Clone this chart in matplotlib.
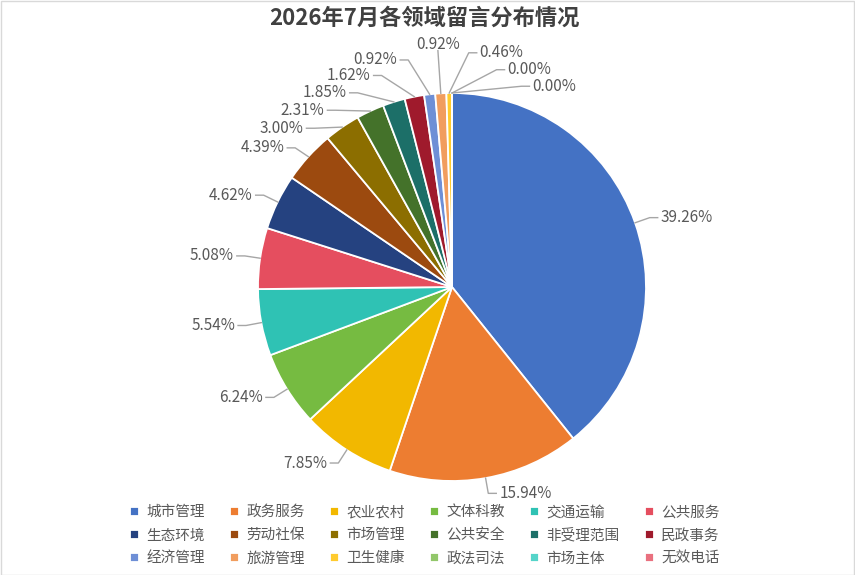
import numpy as np
import matplotlib.pyplot as plt
from matplotlib.patches import Rectangle

plt.rcParams['font.family'] = ['Noto Sans CJK SC', 'DejaVu Sans']

# 各领域名称与占比（%）
categories = ["城市管理", "政务服务", "农业农村", "文体科教", "交通运输", "公共服务",
              "生态环境", "劳动社保", "市场管理", "公共安全", "非受理范围", "民政事务",
              "经济管理", "旅游管理", "卫生健康", "政法司法", "市场主体", "无效电话"]
shares = [39.26, 15.94, 7.85, 6.24, 5.54, 5.08,
          4.62, 4.39, 3.00, 2.31, 1.85, 1.62,
          0.92, 0.92, 0.46, 0.00, 0.00, 0.00]
colors = ["#4472C4", "#ED7D31", "#F2B800", "#76BB41", "#2FC2B4", "#E54E5F",
          "#254280", "#9C4A0F", "#8C6E00", "#44722A", "#1C6F68", "#9F1A2C",
          "#6E8FD6", "#F19D5E", "#FFCB2E", "#92C76A", "#55D4C9", "#E9707F"]
title = "2026年7月各领域留言分布情况"
n_labeled = 17  # 最后一个 0.00% 标签在原图中被遮住

W, H = 855, 575
fig = plt.figure(figsize=(W / 100, H / 100), dpi=100)
ax = fig.add_axes([0, 0, 1, 1])

cx, cy, r = 452, 288, 194
wedges, _ = ax.pie(shares, colors=colors, startangle=90, counterclock=False,
                   center=(cx, cy), radius=r,
                   wedgeprops=dict(edgecolor="white", linewidth=1.3))
# pie 会改坐标范围，之后再设成像素坐标
ax.set_xlim(0, W)
ax.set_ylim(0, H)
ax.set_aspect("equal")
ax.axis("off")

# 标签角度：取扇区中线，顺时针展开后再把挤在一起的拉开
mids = [(w.theta1 + w.theta2) / 2 for w in wedges[:n_labeled]]
ang = [mids[0]]
for m in mids[1:]:
    while m > ang[-1]:
        m -= 360
    ang.append(m)
ang = np.array(ang)
gap = 7.5
for _ in range(500):
    for i in range(len(ang) - 1):
        d = ang[i] - ang[i + 1]
        if d < gap:
            s = (gap - d) / 2
            ang[i] += s
            ang[i + 1] -= s

renderer = fig.canvas.get_renderer()
R0 = 1.08 * r
stub = 8
lab_fs = 11
placed = []


def place(t, al, R):
    qx, qy = cx + R * np.cos(al), cy + R * np.sin(al)
    c = np.cos(al)
    if c > 0.065:
        px = qx + stub
        t.set_position((px + 3, qy))
        t.set_ha("left")
        t.set_va("center")
        return [qx, px], [qy, qy]
    if c < -0.065:
        px = qx - stub
        t.set_position((px - 3, qy))
        t.set_ha("right")
        t.set_va("center")
        return [qx, px], [qy, qy]
    t.set_position((qx, qy - 2))
    t.set_ha("center")
    t.set_va("bottom")
    return [qx], [qy]


def box(t):
    bb = t.get_window_extent(renderer)
    yc = (bb.y0 + bb.y1) / 2
    return (bb.x0, bb.x1, yc - 6.5, yc + 6.5)


def hits(b):
    for o in placed:
        if b[0] < o[1] and b[1] > o[0] and b[2] < o[3] and b[3] > o[2]:
            return True
    return False


for i in range(n_labeled):
    am = np.radians(mids[i])
    al = np.radians(ang[i])
    t = ax.text(0, 0, f"{shares[i]:.2f}%", fontsize=lab_fs, color="#595959")
    # 顶部的标签离饼更远一些（右侧收得更快）
    power = 40 if np.cos(al) > 0 else 14
    R = R0 + 28 * max(0.0, np.sin(al)) ** power
    step = -2 if (np.cos(al) > 0.065 and np.sin(al) > 0.5) else 2
    lx, ly = place(t, al, R)
    while hits(box(t)) and 1.02 * r < R < 2 * r:
        R += step
        lx, ly = place(t, al, R)
    placed.append(box(t))
    ex, ey = cx + r * np.cos(am), cy + r * np.sin(am)
    ax.plot([ex] + lx, [ey] + ly, color="#A6A6A6", lw=1)

ax.text(W / 2 - 3, H - 18, title, ha="center", va="center", fontsize=16,
        fontweight="bold", color="#404040")

# 图例按行排列（matplotlib 按列填充，所以重排一下）
ncol = 6
order = [row * ncol + col for col in range(ncol) for row in range(3)]
fig.legend([wedges[k] for k in order], [categories[k] for k in order],
           ncol=ncol, loc="lower center", bbox_to_anchor=(0.497, -0.007),
           frameon=False, fontsize=10.5, handlelength=0.6, handleheight=0.6,
           handletextpad=0.5, columnspacing=1.75, labelspacing=0.62,
           labelcolor="#595959")

fig.patches.append(Rectangle((0.5 / W, 0.5 / H), 1 - 1.5 / W, 1 - 1.5 / H,
                             transform=fig.transFigure, fill=False,
                             edgecolor="#D9D9D9", lw=1))

fig.savefig("out.png", dpi=100)
